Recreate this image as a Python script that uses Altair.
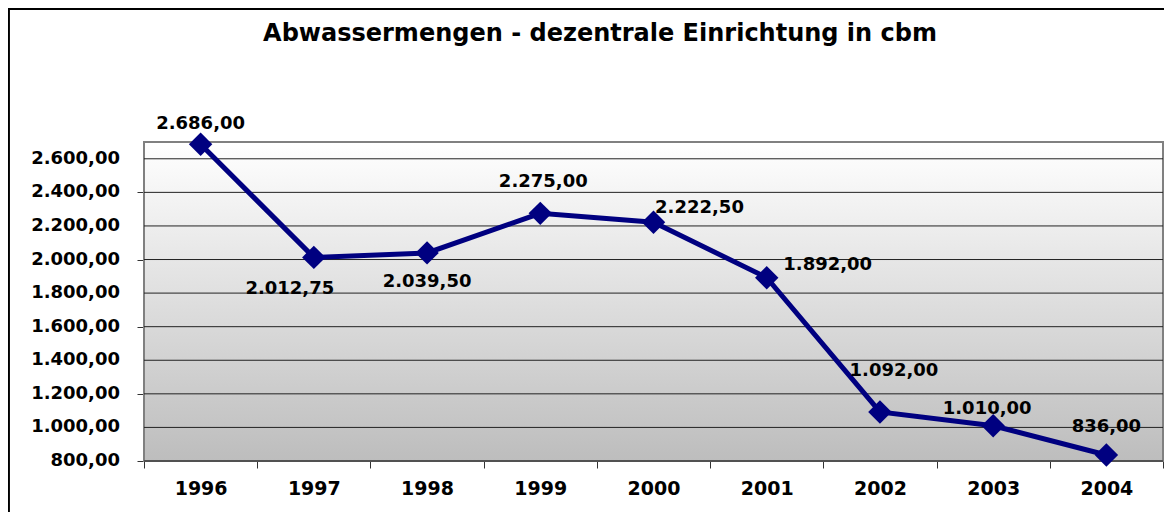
import altair as alt
import pandas as pd

# ---- data ----
years = ["1996", "1997", "1998", "1999", "2000", "2001", "2002", "2003", "2004"]
values = [2686.00, 2012.75, 2039.50, 2275.00, 2222.50, 1892.00, 1092.00, 1010.00, 836.00]
y_ticks = [800, 1000, 1200, 1400, 1600, 1800, 2000, 2200, 2400, 2600]
title_text = ["Abwassermengen - dezentrale Einrichtung in cbm"]

# ---- label placement (style only, pixel offsets from each point) ----
label_offsets = {
    "1996": (0, -20), "1997": (-24, 32), "1998": (0, 29),
    "1999": (3, -31), "2000": (46, -14), "2001": (61, -13),
    "2002": (14, -41), "2003": (-6, -17), "2004": (0, -28),
}

W, H = 1019, 319
FONT = "DejaVu Sans"
df = pd.DataFrame({"year": years, "value": values})
grid_df = pd.DataFrame({"value": y_ticks})
title_df = pd.DataFrame({"t": title_text})

y_scale = alt.Scale(domain=[800, 2700], nice=False, zero=False)
y_axis = alt.Axis(title=None, values=y_ticks, grid=False, labels=False,
                  tickSize=7, tickColor="#333", domainColor="#808080")

x_enc = alt.X(
    "year:O", sort=years,
    scale=alt.Scale(type="band", paddingInner=0, paddingOuter=0),
    axis=alt.Axis(title=None, labelAngle=0, tickBand="extent", grid=False,
                  labelFont=FONT, labelFontSize=19, labelFontWeight="bold",
                  labelColor="black", labelPadding=11, tickSize=7,
                  tickColor="#333", domainColor="#333"),
)

base = alt.Chart(df)

frame = base.mark_rect(fill=None, stroke="black", strokeWidth=1.5).encode(
    x=alt.value(-135.5), x2=alt.value(W + 40),
    y=alt.value(-133), y2=alt.value(H + 80),
)

bg = base.mark_rect(
    color=alt.LinearGradient(
        gradient="linear", x1=0, y1=0, x2=0, y2=1,
        stops=[alt.GradientStop(color="#ffffff", offset=0),
               alt.GradientStop(color="#bdbdbd", offset=1)],
    ),
    stroke="#808080", strokeWidth=2,
).encode(x=alt.value(0), x2=alt.value(W), y=alt.value(0), y2=alt.value(H))

grid = alt.Chart(grid_df).mark_rule(color="#222", strokeWidth=1).encode(
    y=alt.Y("value:Q", scale=y_scale, axis=y_axis),
    x=alt.value(0), x2=alt.value(W),
)

ylabels = alt.Chart(grid_df).mark_text(
    font=FONT, fontSize=18, fontWeight="bold", color="black",
    align="right", baseline="middle",
).encode(
    y=alt.Y("value:Q", scale=y_scale, axis=y_axis),
    x=alt.value(-24),
    text=alt.Text("value:Q", format=",.2f"),
)

title = alt.Chart(title_df).mark_text(
    font=FONT, fontSize=24, fontWeight="bold", color="black",
    align="center", baseline="alphabetic",
).encode(text="t:N", x=alt.value(456), y=alt.value(-101))

line = base.mark_line(color="#000080", strokeWidth=5).encode(
    x=x_enc, y=alt.Y("value:Q", scale=y_scale, axis=y_axis))
pts = base.mark_point(shape="diamond", filled=True, size=550, color="#000080",
                      opacity=1).encode(x="year:O", y="value:Q")

labels = []
for yr, (dx, dy) in label_offsets.items():
    labels.append(
        base.transform_filter(alt.datum.year == yr)
        .mark_text(font=FONT, fontSize=18, fontWeight="bold", color="black",
                   dx=dx, dy=dy, align="center", baseline="middle")
        .encode(x="year:O", y="value:Q", text=alt.Text("value:Q", format=",.2f"))
    )

chart = alt.layer(frame, bg, grid, ylabels, line, pts, title, *labels).properties(
    width=W, height=H,
    autosize=alt.AutoSizeParams(type="none"),
    padding={"left": 136, "top": 134, "right": 1, "bottom": 51},
).configure(
    locale={"number": {"decimal": ",", "thousands": ".", "grouping": [3],
                       "currency": ["", " €"]}},
    background="white",
).configure_view(stroke=None)

chart.save("out.html", embed_options={"renderer": "svg", "actions": False})
